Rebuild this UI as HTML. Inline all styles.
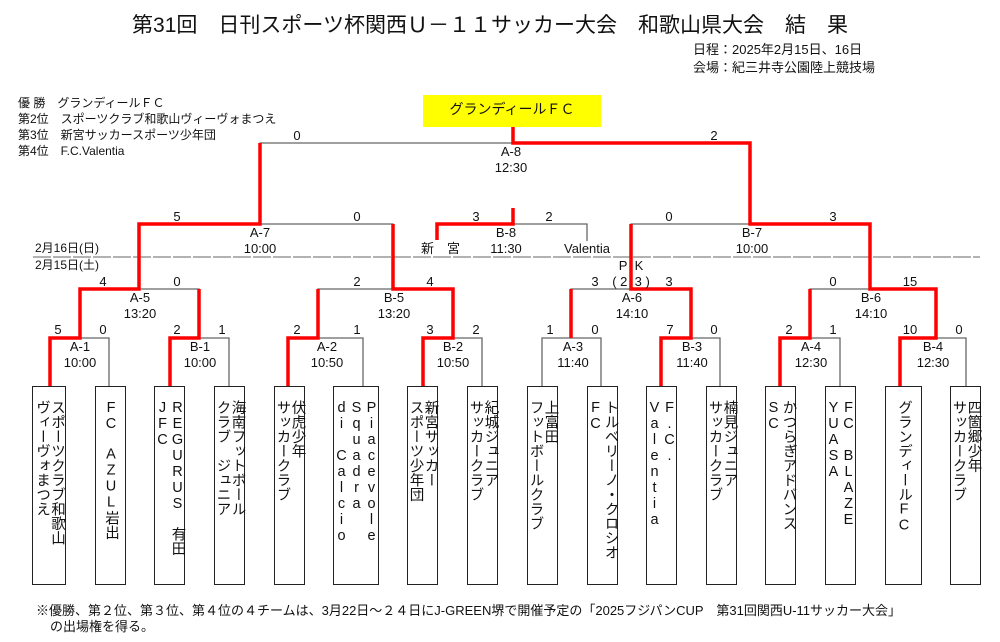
<!DOCTYPE html>
<html><head><meta charset="utf-8"><style>
body{margin:0;background:#fff;}
#w{position:relative;width:1000px;height:642px;overflow:hidden;font-family:"Liberation Sans","Noto Sans CJK JP",sans-serif;color:#111;}
.t{position:absolute;white-space:nowrap;font-size:13px;line-height:15px;}
.c{transform:translateX(-50%);}
.box{position:absolute;top:386px;height:199px;border:1px solid #222;box-sizing:border-box;}
.v{position:absolute;top:13px;left:0;right:0;display:flex;flex-direction:row-reverse;justify-content:center;align-items:flex-start;}
.v span{display:block;writing-mode:vertical-rl;text-orientation:upright;font-size:14.5px;line-height:15px;width:15px;white-space:nowrap;}
svg{position:absolute;left:0;top:0;}
</style></head><body><div id="w">
<svg width="1000" height="642">
<rect x="423" y="95" width="178" height="32" fill="#ffff00"/>
<g stroke="#666" stroke-width="1.3" fill="none">
<path d="M50 386V338H109V386"/><path d="M170 386V338H229V386"/>
<path d="M288 386V338H363V386"/><path d="M423 386V338H482V386"/>
<path d="M542 386V338H601V386"/><path d="M661 386V338H720V386"/>
<path d="M780 386V338H840V386"/><path d="M900 386V338H966V386"/>
<path d="M80 338V289H199V338"/><path d="M318 338V289H453V338"/>
<path d="M571 338V289H691V338"/><path d="M810 338V289H936V338"/>
<path d="M139 289V224H393V289"/><path d="M631 289V224H870V289"/>
<path d="M437 240V224H587V241"/>
<path d="M260 224V143H750V224"/>
</g>
<line x1="33" y1="257" x2="980" y2="257" stroke="#666" stroke-width="1" stroke-dasharray="18,2"/>
<g stroke="#f00" stroke-width="3.5" fill="none">
<path d="M50 386V338H80V289H139V224H260V143"/>
<path d="M170 386V338H199V289"/>
<path d="M288 386V338H318V289"/>
<path d="M423 386V338H453V289H393V224"/>
<path d="M571 338V289"/>
<path d="M661 386V338H691V289H631V224"/>
<path d="M780 386V338H810V289"/>
<path d="M900 386V338H936V289H870V224H750V143H513V127"/>
<path d="M437 240V224H513V208"/>
</g>
</svg>
<div class="t c" style="left:490px;top:13px;font-size:21px;line-height:26px;">第31回　日刊スポーツ杯関西Ｕ－１１サッカー大会　和歌山県大会　結　果</div>
<div class="t" style="left:693px;top:42px;">日程：2025年2月15日、16日</div>
<div class="t" style="left:693px;top:60px;">会場：紀三井寺公園陸上競技場</div>
<div class="t c" style="left:512px;top:102px;font-size:14px;">グランディールＦＣ</div>
<div class="t" style="left:18px;top:96px;font-size:12px;">優 勝　グランディールＦＣ</div>
<div class="t" style="left:18px;top:112px;font-size:12px;">第2位　スポーツクラブ和歌山ヴィーヴォまつえ</div>
<div class="t" style="left:18px;top:128px;font-size:12px;">第3位　新宮サッカースポーツ少年団</div>
<div class="t" style="left:18px;top:144px;font-size:12px;">第4位　F.C.Valentia</div>
<div class="t" style="left:35px;top:241px;font-size:12px;">2月16日(日)</div>
<div class="t" style="left:35px;top:258px;font-size:12px;">2月15日(土)</div>
<div class="t c" style="left:297px;top:128px;">0</div><div class="t c" style="left:714px;top:128px;">2</div>
<div class="t c" style="left:177px;top:209px;">5</div><div class="t c" style="left:357px;top:209px;">0</div>
<div class="t c" style="left:476px;top:209px;">3</div><div class="t c" style="left:549px;top:209px;">2</div>
<div class="t c" style="left:669px;top:209px;">0</div><div class="t c" style="left:833px;top:209px;">3</div>
<div class="t c" style="left:103px;top:274px;">4</div><div class="t c" style="left:177px;top:274px;">0</div>
<div class="t c" style="left:357px;top:274px;">2</div><div class="t c" style="left:430px;top:274px;">4</div>
<div class="t c" style="left:595px;top:274px;">3</div><div class="t c" style="left:631px;top:274px;">(&nbsp;2&nbsp;&nbsp;3&nbsp;)</div><div class="t c" style="left:669px;top:274px;">3</div>
<div class="t c" style="left:833px;top:274px;">0</div><div class="t c" style="left:910px;top:274px;">15</div>
<div class="t c" style="left:631px;top:258px;">P&nbsp;&nbsp;K</div>
<div class="t c" style="left:58px;top:322px;">5</div><div class="t c" style="left:103px;top:322px;">0</div>
<div class="t c" style="left:177px;top:322px;">2</div><div class="t c" style="left:222px;top:322px;">1</div>
<div class="t c" style="left:297px;top:322px;">2</div><div class="t c" style="left:357px;top:322px;">1</div>
<div class="t c" style="left:430px;top:322px;">3</div><div class="t c" style="left:476px;top:322px;">2</div>
<div class="t c" style="left:550px;top:322px;">1</div><div class="t c" style="left:595px;top:322px;">0</div>
<div class="t c" style="left:670px;top:322px;">7</div><div class="t c" style="left:714px;top:322px;">0</div>
<div class="t c" style="left:789px;top:322px;">2</div><div class="t c" style="left:833px;top:322px;">1</div>
<div class="t c" style="left:910px;top:322px;">10</div><div class="t c" style="left:959px;top:322px;">0</div>
<div class="t c" style="left:511px;top:144px;">A-8</div><div class="t c" style="left:511px;top:160px;">12:30</div>
<div class="t c" style="left:260px;top:225px;">A-7</div><div class="t c" style="left:260px;top:241px;">10:00</div>
<div class="t c" style="left:752px;top:225px;">B-7</div><div class="t c" style="left:752px;top:241px;">10:00</div>
<div class="t c" style="left:506px;top:225px;">B-8</div><div class="t c" style="left:506px;top:241px;">11:30</div>
<div class="t" style="left:421px;top:241px;">新　宮</div><div class="t c" style="left:587px;top:241px;">Valentia</div>
<div class="t c" style="left:140px;top:290px;">A-5</div><div class="t c" style="left:140px;top:306px;">13:20</div>
<div class="t c" style="left:394px;top:290px;">B-5</div><div class="t c" style="left:394px;top:306px;">13:20</div>
<div class="t c" style="left:632px;top:290px;">A-6</div><div class="t c" style="left:632px;top:306px;">14:10</div>
<div class="t c" style="left:871px;top:290px;">B-6</div><div class="t c" style="left:871px;top:306px;">14:10</div>
<div class="t c" style="left:80px;top:339px;">A-1</div><div class="t c" style="left:80px;top:355px;">10:00</div>
<div class="t c" style="left:200px;top:339px;">B-1</div><div class="t c" style="left:200px;top:355px;">10:00</div>
<div class="t c" style="left:327px;top:339px;">A-2</div><div class="t c" style="left:327px;top:355px;">10:50</div>
<div class="t c" style="left:453px;top:339px;">B-2</div><div class="t c" style="left:453px;top:355px;">10:50</div>
<div class="t c" style="left:573px;top:339px;">A-3</div><div class="t c" style="left:573px;top:355px;">11:40</div>
<div class="t c" style="left:692px;top:339px;">B-3</div><div class="t c" style="left:692px;top:355px;">11:40</div>
<div class="t c" style="left:811px;top:339px;">A-4</div><div class="t c" style="left:811px;top:355px;">12:30</div>
<div class="t c" style="left:933px;top:339px;">B-4</div><div class="t c" style="left:933px;top:355px;">12:30</div>
<div class="box" style="left:32px;width:34px;"><div class="v"><span>スポーツクラブ和歌山</span><span>ヴィーヴォまつえ</span></div></div>
<div class="box" style="left:95px;width:31px;"><div class="v"><span>FC　AZUL岩出</span></div></div>
<div class="box" style="left:154px;width:31px;"><div class="v"><span>REGURUS　有田</span><span>JFC</span></div></div>
<div class="box" style="left:214px;width:31px;"><div class="v"><span>海南フットボール</span><span>クラブ　ジュニア</span></div></div>
<div class="box" style="left:274px;width:31px;"><div class="v"><span>伏虎少年</span><span>サッカークラブ</span></div></div>
<div class="box" style="left:333px;width:46px;"><div class="v"><span>Piacevole</span><span>Squadra</span><span>di Calcio</span></div></div>
<div class="box" style="left:407px;width:31px;"><div class="v"><span>新宮サッカー</span><span>スポーツ少年団</span></div></div>
<div class="box" style="left:467px;width:31px;"><div class="v"><span>紀城ジュニア</span><span>サッカークラブ</span></div></div>
<div class="box" style="left:527px;width:31px;"><div class="v"><span>上富田</span><span>フットボールクラブ</span></div></div>
<div class="box" style="left:587px;width:31px;"><div class="v"><span>トルベリーノ・クロシオ</span><span>FC</span></div></div>
<div class="box" style="left:646px;width:31px;"><div class="v"><span>F.C.</span><span>Valentia</span></div></div>
<div class="box" style="left:706px;width:31px;"><div class="v"><span>楠見ジュニア</span><span>サッカークラブ</span></div></div>
<div class="box" style="left:765px;width:31px;"><div class="v"><span>かつらぎアドバンス</span><span>SC</span></div></div>
<div class="box" style="left:825px;width:31px;"><div class="v"><span>FC BLAZE</span><span>YUASA</span></div></div>
<div class="box" style="left:885px;width:37px;"><div class="v"><span>グランディールFC</span></div></div>
<div class="box" style="left:950px;width:31px;"><div class="v"><span>四箇郷少年</span><span>サッカークラブ</span></div></div>
<div class="t" style="left:36px;top:603px;">※優勝、第２位、第３位、第４位の４チームは、3月22日～２４日にJ-GREEN堺で開催予定の「2025フジパンCUP　第31回関西U-11サッカー大会」</div>
<div class="t" style="left:50px;top:619px;">の出場権を得る。</div>
</div></body></html>
